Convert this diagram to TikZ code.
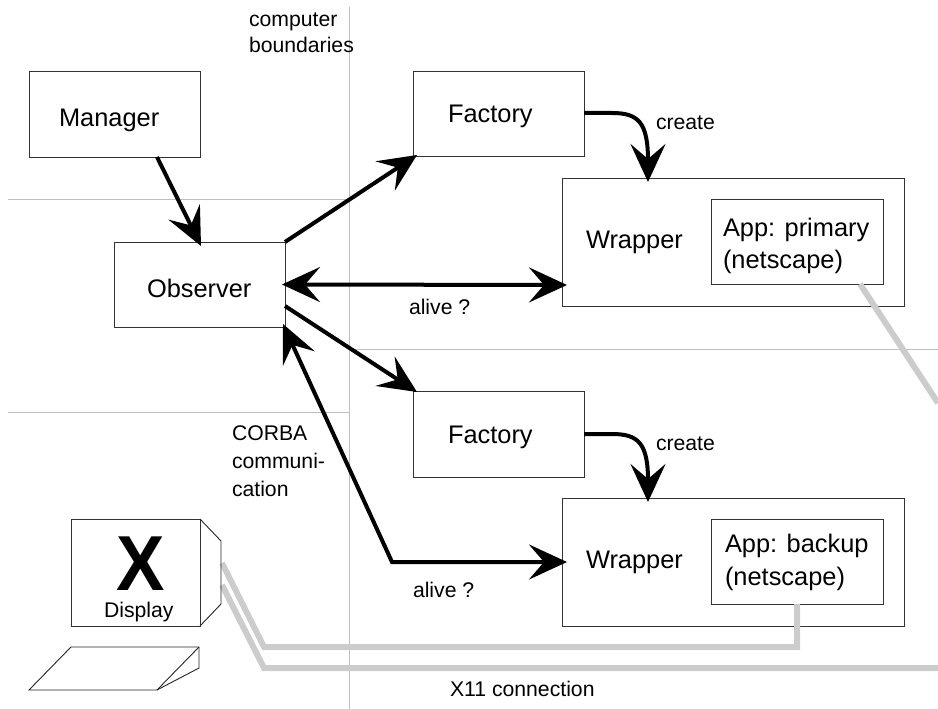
\documentclass[tikz,border=0pt]{standalone}
\usepackage{fontspec}
\setmainfont{Liberation Sans}
\usetikzlibrary{arrows.meta,calc}
\tikzset{
  boxn/.style={draw=black!80,line width=0.9pt,inner sep=0pt,outer sep=0pt,anchor=north west,fill=none},
  big/.style={anchor=base west,inner sep=0pt,outer sep=0pt,align=left,font=\fontsize{25.4}{32}\selectfont},
  small/.style={anchor=base west,inner sep=0pt,outer sep=0pt,font=\fontsize{21.2}{27}\selectfont},
  boundary/.style={draw=black!25,line width=1pt},
  x11/.style={draw=black!20,line width=6pt,line join=miter},
  shapeline/.style={draw=black!85,line width=0.9pt,line join=miter},
  flow/.style={draw=black,line width=4pt,line join=miter,-{Stealth[length=38pt,width=35pt,inset=15pt]}},
  flowboth/.style={draw=black,line width=4pt,line join=miter,{Stealth[length=38pt,width=35pt,inset=15pt]}-{Stealth[length=38pt,width=35pt,inset=15pt]}}
}
\begin{document}
\begin{tikzpicture}[x=1pt,y=-1pt]
\useasboundingbox (0,0) rectangle (938,709);
% boundaries
\coordinate (vtop) at (349,7);
\coordinate (vbot) at (349,709);
\coordinate (hAl) at (8,199);
\coordinate (hAr) at (349,199);
\coordinate (hBl) at (349,349);
\coordinate (hBr) at (938,349);
\coordinate (hCl) at (8,412);
\coordinate (hCr) at (349,412);
\draw[boundary] (vtop) -- (vbot);
\draw[boundary] (hAl) -- (hAr);
\draw[boundary] (hBl) -- (hBr);
\draw[boundary] (hCl) -- (hCr);
% boxes
\node[boxn,minimum width=171pt,minimum height=86pt] (manager) at (29,71) {};
\node[boxn,minimum width=171pt,minimum height=85pt] (observer) at (114,242) {};
\node[boxn,minimum width=171pt,minimum height=85pt] (factory1) at (413,71) {};
\node[boxn,minimum width=171pt,minimum height=86pt] (factory2) at (413,391) {};
\node[boxn,minimum width=342pt,minimum height=128pt] (wrapper1) at (562,178) {};
\node[boxn,minimum width=172pt,minimum height=85pt] (app1) at (711,199) {};
\node[boxn,minimum width=342pt,minimum height=128pt] (wrapper2) at (562,498) {};
\node[boxn,minimum width=172pt,minimum height=85pt] (app2) at (711,519) {};
\node[boxn,minimum width=129pt,minimum height=107pt] (display) at (71,519) {};
% X11 lines
\coordinate (x1a) at (222,563);
\coordinate (x1b) at (264,647);
\coordinate (x1c) at (797,647);
\coordinate (x2a) at (222,585);
\coordinate (x2b) at (264,668);
\coordinate (x2c) at (938,668);
\coordinate (x3b) at (938,403);
\draw[x11] (x1a) -- (x1b) -- (x1c) -- (x1c |- app2.south);
\draw[x11] (x2a) -- (x2b) -- (x2c);
\draw[x11] ($(app1.south west)+(149,0)$) -- (x3b);
% display side and keyboard
\coordinate (s1) at (221,541);
\coordinate (s2) at (221,604);
\draw[shapeline] (display.north east) -- (s1) -- (s2) -- (display.south east);
\coordinate (k1) at (29,690);
\coordinate (k2) at (71,647);
\coordinate (k3) at (199,647);
\coordinate (k4) at (199,668);
\coordinate (k5) at (157,690);
\draw[shapeline] (k1) -- (k2) -- (k3) -- (k4) -- (k5) -- cycle;
\draw[shapeline] (k5) -- (k3);
% flows
\coordinate (mgrOut) at ($(manager.south west)+(128,0)$);
\coordinate (obsIn) at ($(observer.north west)+(87,4)$);
\draw[flow] (mgrOut) -- (obsIn);
\draw[flow] (observer.north east) -- ($(factory1.south west)+(4,-1)$);
\draw[flow] ($(observer.south east)+(0,-21)$) -- ($(factory2.north west)+(4,1)$);
\draw[flowboth] ($(observer.east)+(-3,0)$) -- ($(wrapper1.west)+(5,43)$);
\coordinate (elbow) at (392,562);
\draw[flowboth] ($(observer.south east)+(-2,-3)$) -- (elbow) -- ($(wrapper2.west)+(5,0)$);
\draw[flow] ($(factory1.east)+(0,-0.5)$) -- ++(28,0) .. controls (638,113) and (648,122) .. ($(wrapper1.north west)+(86,4)$);
\draw[flow] ($(factory2.east)+(0,0)$) -- ++(28,0) .. controls (638,434) and (648,443) .. ($(wrapper2.north west)+(86,4)$);
% labels
\node[big] (tManager) at (59,127) {Manager};
\node[big] (tObserver) at (147,297) {Observer};
\node[big] (tFactoryA) at (448,123) {Factory};
\node[big] (tFactoryB) at (448,443) {Factory};
\node[big] (tWrapperA) at (586,248) {Wrapper};
\node[big] (tWrapperB) at (586,568) {Wrapper};
\node[big] (tAppA) at (723,236) {App: primary};
\node[big] (tNetA) at (723,268) {(netscape)};
\node[big] (tAppB) at (725,552) {App: backup};
\node[big] (tNetB) at (725,585) {(netscape)};
\node[small] (tCreateA) at (656,129) {create};
\node[small] (tCreateB) at (656,450) {create};
\node[small] (tAliveA) at (409,314) {alive ?};
\node[small] (tAliveB) at (413,597) {alive ?};
\node[small] (tComp) at (249,27) {computer};
\node[small] (tBound) at (249,53) {boundaries};
\node[small] (tCorba) at (232,440) {CORBA};
\node[small] (tComm) at (232,468) {communi-};
\node[small] (tCat) at (232,496) {cation};
\node[small] (tX11) at (450,696) {X11 connection};
\node[small] (tDisplay) at (104,617) {Display};
\node[anchor=base west,inner sep=0pt,font=\fontsize{78}{78}\selectfont\bfseries] (tX) at (116,590) {\scalebox{.93}[1]{X}};
\end{tikzpicture}
\end{document}
